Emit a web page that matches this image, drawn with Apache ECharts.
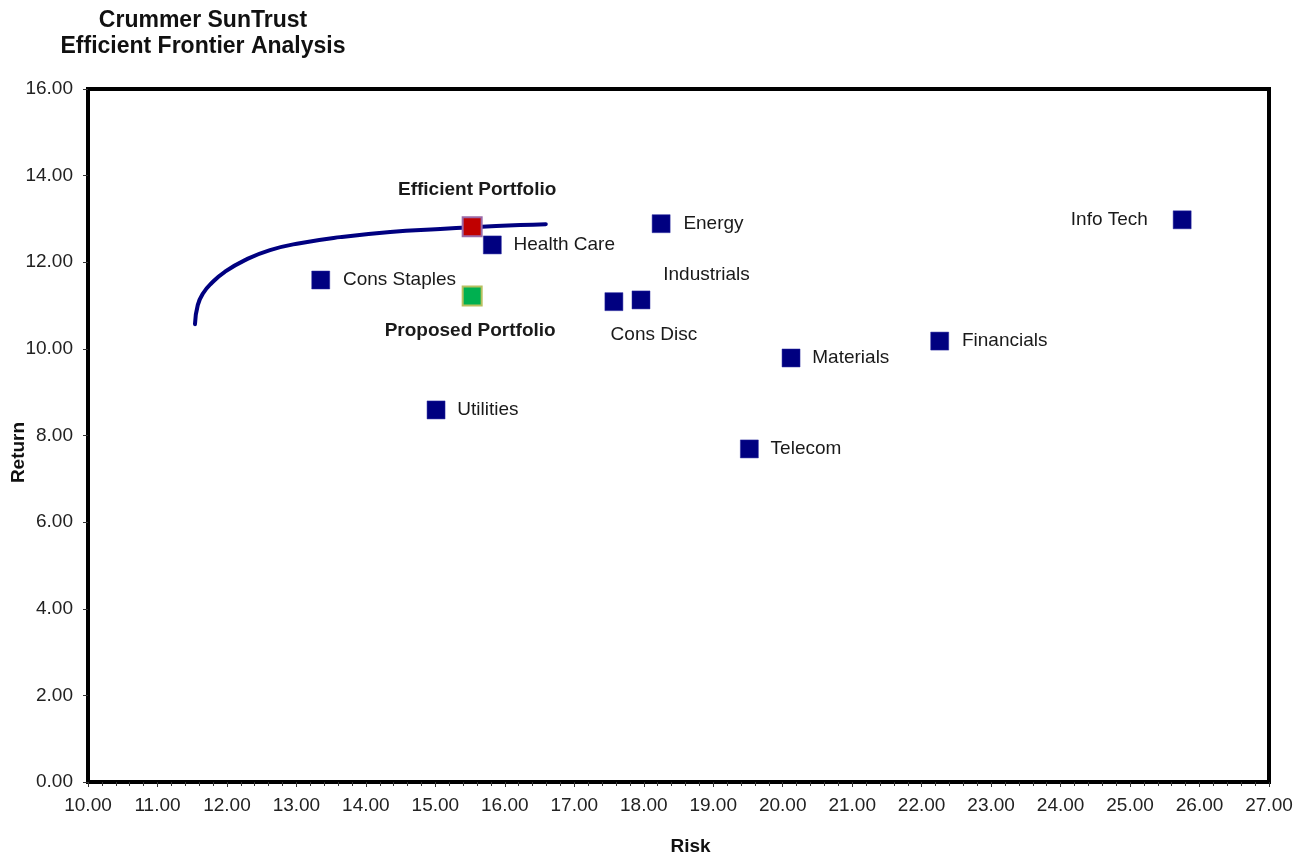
<!DOCTYPE html>
<html>
<head>
<meta charset="utf-8">
<script src="https://cdn.jsdelivr.net/npm/echarts@6/dist/echarts.min.js"></script>
<style>
html,body{margin:0;padding:0;background:#fff;}
#chart{width:1307px;height:859px;}
</style>
</head>
<body>
<div id="chart"></div>
<script>
// Sector points
const sectorNames = ['Health Care','Cons Staples','Energy','Info Tech','Industrials','Cons Disc','Materials','Financials','Utilities','Telecom'];
const sectorRisk   = [15.82, 13.35, 18.25, 25.75, 17.96, 17.57, 20.12, 22.26, 15.01, 19.52];
const sectorReturn = [12.40, 11.59, 12.89, 12.98, 11.13, 11.09, 9.79, 10.18, 8.59, 7.69];

// Portfolios
const efficientPortfolio = [15.53, 12.82];
const proposedPortfolio  = [15.53, 11.22];

// Efficient frontier curve
const frontierRisk   = [11.54, 11.58, 11.66, 11.78, 11.97, 12.26, 12.62, 13.05, 13.63, 14.35, 15.07, 15.53, 16.22, 16.59];
const frontierReturn = [10.57, 11.01, 11.29, 11.52, 11.78, 12.05, 12.28, 12.44, 12.58, 12.70, 12.77, 12.81, 12.86, 12.88];

const FONT = '"Liberation Sans", Arial, sans-serif';
const labelBase = {show: true, formatter: '{b}', color: '#1a1a1a', fontFamily: FONT, fontSize: 19};
const labelPlacement = {
  'Health Care':  {position: 'right', distance: 12},
  'Cons Staples': {position: 'right', distance: 13},
  'Energy':       {position: 'right', distance: 13},
  'Info Tech':    {position: 'left', distance: 25},
  'Industrials':  {position: 'right', distance: 13, offset: [0, -25]},
  'Cons Disc':    {position: 'bottom', distance: 14, offset: [40, 0]},
  'Materials':    {position: 'right', distance: 12},
  'Financials':   {position: 'right', distance: 13},
  'Utilities':    {position: 'right', distance: 12},
  'Telecom':      {position: 'right', distance: 12}
};

const sectorData = sectorNames.map((n, i) => ({
  name: n,
  value: [sectorRisk[i], sectorReturn[i]],
  label: Object.assign({}, labelBase, labelPlacement[n])
}));

const frontierData = frontierRisk.map((x, i) => [x, frontierReturn[i]]);

const chart = echarts.init(document.getElementById('chart'));
chart.setOption({
  backgroundColor: '#fff',
  animation: false,
  title: {
    text: 'Crummer SunTrust\nEfficient Frontier Analysis',
    left: 198, top: 3,
    textAlign: 'center',
    textStyle: {fontFamily: FONT, fontSize: 23, fontWeight: 'bold', color: '#111', lineHeight: 26}
  },
  grid: {left: 88, right: 38, top: 89, bottom: 77, show: true, borderColor: '#000', borderWidth: 4,
    containLabel: false, outerBoundsMode: 'none'},
  xAxis: {
    type: 'value', min: 10, max: 27, interval: 1,
    name: 'Risk', nameLocation: 'middle', nameGap: 55, nameMoveOverlap: false,
    nameTextStyle: {fontFamily: FONT, fontSize: 19, fontWeight: 'bold', color: '#111', padding: [0, 0, 0, 24]},
    axisLine: {show: true, lineStyle: {color: '#000', width: 4}},
    axisTick: {show: true, length: 5, lineStyle: {color: '#333', width: 1}},
    minorTick: {show: true, splitNumber: 5, length: 4, lineStyle: {color: '#333', width: 1}},
    axisLabel: {fontFamily: FONT, fontSize: 19, color: '#222', margin: 14, formatter: v => v.toFixed(2)},
    splitLine: {show: false}
  },
  yAxis: {
    type: 'value', min: 0, max: 16, interval: 2,
    name: 'Return', nameLocation: 'middle', nameGap: 60, nameRotate: 90, nameMoveOverlap: false,
    nameTextStyle: {fontFamily: FONT, fontSize: 19, fontWeight: 'bold', color: '#111', padding: [0, 34, 0, 0]},
    axisLine: {show: true, lineStyle: {color: '#000', width: 4}},
    axisTick: {show: true, length: 5, lineStyle: {color: '#333', width: 1}},
    axisLabel: {fontFamily: FONT, fontSize: 19, color: '#222', margin: 15, formatter: v => v.toFixed(2)},
    splitLine: {show: false}
  },
  series: [
    {
      name: 'Frontier', type: 'line', data: frontierData, smooth: 0.5,
      symbol: 'none', lineStyle: {color: '#000080', width: 4, cap: 'round'}, z: 2
    },
    {
      name: 'Sectors', type: 'scatter', data: sectorData,
      symbol: 'rect', symbolSize: 18,
      itemStyle: {color: '#000080', opacity: 1, borderColor: '#2a2aa0', borderWidth: 0.5}, z: 3
    },
    {
      name: 'Efficient', type: 'scatter', symbol: 'rect', symbolSize: 19,
      data: [{name: 'Efficient Portfolio', value: efficientPortfolio,
        label: {show: true, formatter: '{b}', position: 'top', distance: 17, offset: [5, 0],
          fontFamily: FONT, fontSize: 19, fontWeight: 'bold', color: '#1a1a1a'}}],
      itemStyle: {color: '#c00000', opacity: 1, borderColor: '#9a6aa8', borderWidth: 2}, z: 4
    },
    {
      name: 'Proposed', type: 'scatter', symbol: 'rect', symbolSize: 19,
      data: [{name: 'Proposed Portfolio', value: proposedPortfolio,
        label: {show: true, formatter: '{b}', position: 'bottom', distance: 15, offset: [-2, 0],
          fontFamily: FONT, fontSize: 19, fontWeight: 'bold', color: '#1a1a1a'}}],
      itemStyle: {color: '#00b050', opacity: 1, borderColor: '#b8c060', borderWidth: 2}, z: 4
    }
  ]
});
</script>
</body>
</html>
